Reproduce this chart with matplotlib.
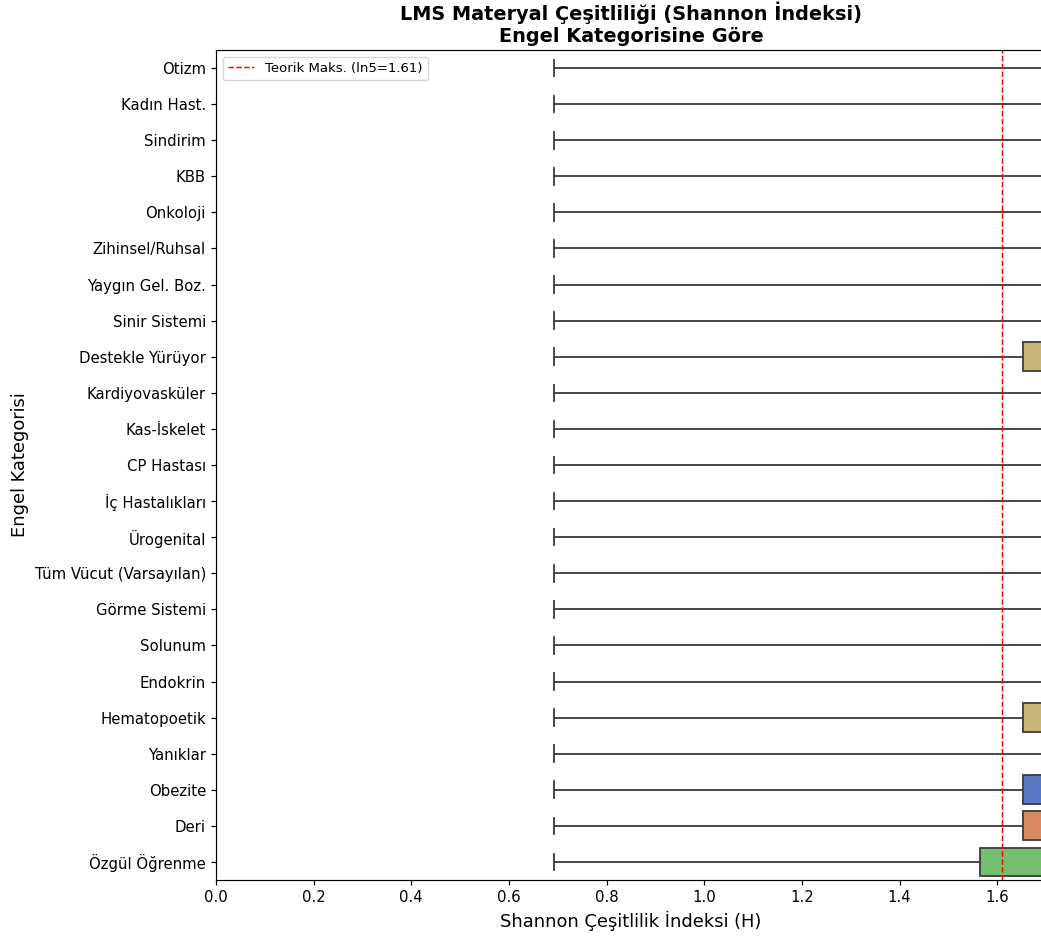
import numpy as np
import matplotlib
matplotlib.use("Agg")
import matplotlib.pyplot as plt

# categories, top to bottom
categories = ["Otizm", "Kadın Hast.", "Sindirim", "KBB", "Onkoloji", "Zihinsel/Ruhsal",
              "Yaygın Gel. Boz.", "Sinir Sistemi", "Destekle Yürüyor", "Kardiyovasküler",
              "Kas-İskelet", "CP Hastası", "İç Hastalıkları", "Ürogenital",
              "Tüm Vücut (Varsayılan)", "Görme Sistemi", "Solunum", "Endokrin",
              "Hematopoetik", "Yanıklar", "Obezite", "Deri", "Özgül Öğrenme"]

# box statistics per category (Shannon H)
whislo = [0.693] * 23
q1 = [1.75, 1.75, 1.75, 1.75, 1.75, 1.75, 1.75, 1.75, 1.652, 1.75, 1.75, 1.75,
      1.75, 1.75, 1.75, 1.75, 1.75, 1.75, 1.652, 1.75, 1.652, 1.652, 1.564]
med = [1.79] * 23
q3 = [1.86] * 23
whishi = [1.95] * 23

box_colors = {"Destekle Yürüyor": "#c9b575", "Hematopoetik": "#c9b575",
              "Obezite": "#5779c1", "Deri": "#d88b5e", "Özgül Öğrenme": "#74c06e"}

theo_max = np.log(5)

s = 1.07  # overall text / line scale
plt.rcParams["axes.linewidth"] = 0.8 * s
plt.rcParams["xtick.major.width"] = 0.8 * s
plt.rcParams["ytick.major.width"] = 0.8 * s
plt.rcParams["xtick.major.size"] = 3.5 * s
plt.rcParams["ytick.major.size"] = 3.5 * s

fig = plt.figure(figsize=(10.41, 9.38), dpi=100)
ax = fig.add_axes([216 / 1041, 58 / 938, 830 / 1041, 830 / 938])

n = len(categories)
stats = []
for i in range(n):
    stats.append(dict(whislo=whislo[i], q1=q1[i], med=med[i], q3=q3[i],
                      whishi=whishi[i], fliers=[]))

lc = "#3f3f3f"
lw = 1.25 * s
bp = ax.bxp(stats, positions=np.arange(n), widths=0.8, orientation="horizontal",
            patch_artist=True, showfliers=False, capwidths=0.46,
            boxprops=dict(edgecolor=lc, linewidth=lw),
            whiskerprops=dict(color=lc, linewidth=lw),
            capprops=dict(color=lc, linewidth=lw),
            medianprops=dict(color=lc, linewidth=lw))
for patch, cat in zip(bp["boxes"], categories):
    patch.set_facecolor(box_colors.get(cat, "#c9b575"))

ax.axvline(theo_max, color="red", linestyle="--", linewidth=1.0 * s,
           label="Teorik Maks. (ln5=1.61)")

ax.set_yticks(np.arange(n))
ax.set_yticklabels(categories, fontsize=10.7)
ax.set_ylim(n - 0.5, -0.5)
ax.set_xlim(0, 1.70)
ax.set_xticks(np.arange(0, 1.61, 0.2))
ax.tick_params(axis="x", labelsize=10.7)

ax.set_xlabel("Shannon Çeşitlilik İndeksi (H)", fontsize=12.9)
ax.set_ylabel("Engel Kategorisi", fontsize=12.9)
ax.set_title("LMS Materyal Çeşitliliği (Shannon İndeksi)\nEngel Kategorisine Göre",
             fontsize=13.9, fontweight="bold")
ax.legend(loc="upper left", fontsize=9.5)

fig.savefig("out.png", dpi=100)
